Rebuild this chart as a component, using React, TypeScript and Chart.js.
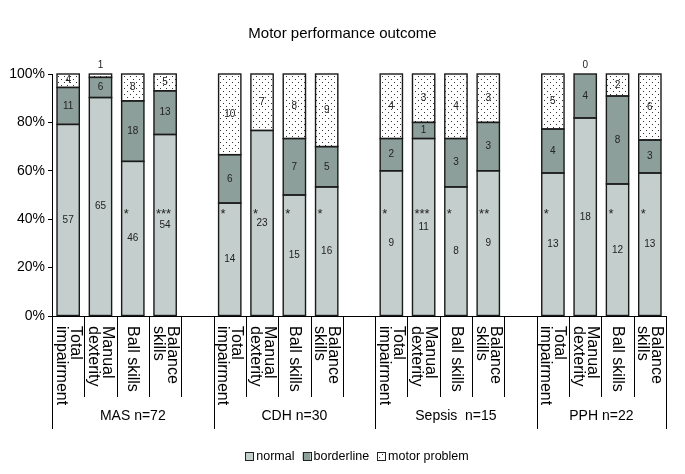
import React, { useEffect, useRef } from "react";
import { Chart, registerables } from "chart.js";
Chart.register(...registerables);

const chartTitle = "Motor performance outcome";
const groupLabels = ["MAS n=72", "CDH n=30", "Sepsis  n=15", "PPH n=22"];
const measureLabels = [["Total", "impairment"], ["Manual", "dexterity"], ["Ball skills"], ["Balance", "skills"]];
const seriesNames = ["normal", "borderline", "motor problem"];
const normalCounts = [57, 65, 46, 54, 14, 23, 15, 16, 9, 11, 8, 9, 13, 18, 12, 13];
const borderlineCounts = [11, 6, 18, 13, 6, 0, 7, 5, 2, 1, 3, 3, 4, 4, 8, 3];
const motorCounts = [4, 1, 8, 5, 10, 7, 8, 9, 4, 3, 4, 3, 5, 0, 2, 6];
const significance = ["", "", "*", "***", "*", "*", "*", "*", "*", "***", "*", "**", "*", "", "*", "*"];
const yTicks = [0, 20, 40, 60, 80, 100];

const FONT = "'Liberation Sans', Arial, Helvetica, sans-serif";
const NORMAL_COLOR = "#c4cecc";
const BORDER_COLOR = "#8d9f9a";

export default function App() {
  const ref = useRef<HTMLCanvasElement>(null);
  useEffect(() => {
    document.body.style.margin = "0";
    const canvas = ref.current!;
    const labels: any[] = [];
    const dataIdx: (number | null)[] = [];
    const groupOf: (number | null)[] = [];
    groupLabels.forEach((g, gi) => {
      measureLabels.forEach((m, mi) => {
        labels.push(m);
        dataIdx.push(gi * measureLabels.length + mi);
        groupOf.push(gi);
      });
      if (gi < groupLabels.length - 1) {
        labels.push("");
        dataIdx.push(null);
        groupOf.push(null);
      }
    });
    const totals = normalCounts.map((n, i) => n + borderlineCounts[i] + motorCounts[i]);
    const pct = (arr: number[]) => dataIdx.map((d) => (d === null ? null : (arr[d] / totals[d]) * 100));
    const countsBySeries = [normalCounts, borderlineCounts, motorCounts];

    const pc = document.createElement("canvas");
    pc.width = 6;
    pc.height = 6;
    const pctx = pc.getContext("2d")!;
    pctx.fillStyle = "#ffffff";
    pctx.fillRect(0, 0, 6, 6);
    pctx.fillStyle = "#333333";
    pctx.fillRect(1, 1, 1, 1);
    pctx.fillRect(4, 4, 1, 1);
    const pattern = canvas.getContext("2d")!.createPattern(pc, "repeat")!;
    const fills = [NORMAL_COLOR, BORDER_COLOR, pattern];

    const isGroupBoundary = (b: number, n: number) => {
      const prevGroup = b > 0 ? groupOf[b - 1] : undefined;
      const nextGroup = b < n ? groupOf[b] : undefined;
      return b === 0 || b === n || (prevGroup === null && nextGroup !== null);
    };

    const decor = {
      id: "decor",
      afterDatasetsDraw(chart: any) {
        const ctx = chart.ctx;
        const ys = chart.scales.y;
        const area = chart.chartArea;
        ctx.save();
        // segment outlines (shared edges drawn once)
        ctx.strokeStyle = "#1a1a1a";
        ctx.lineWidth = 1.4;
        countsBySeries.forEach((arr, si) => {
          const meta = chart.getDatasetMeta(si);
          meta.data.forEach((el: any, ci: number) => {
            const d = dataIdx[ci];
            if (d === null || arr[d] === 0) return;
            const left = el.x - el.width / 2;
            const top = Math.min(el.y, el.base);
            const h = Math.abs(el.base - el.y);
            ctx.strokeRect(left, top, el.width, h);
          });
        });
        ctx.fillStyle = "#222";
        ctx.font = `10px ${FONT}`;
        ctx.textAlign = "center";
        ctx.textBaseline = "middle";
        countsBySeries.forEach((arr, si) => {
          const meta = chart.getDatasetMeta(si);
          meta.data.forEach((el: any, ci: number) => {
            const d = dataIdx[ci];
            if (d === null) return;
            const v = arr[d];
            const h = Math.abs(el.base - el.y);
            if (si === 2 && h < 6) {
              ctx.fillText(String(v), el.x, area.top - 9);
              return;
            }
            if (v === 0) return;
            ctx.fillText(String(v), el.x, (el.y + el.base) / 2);
          });
        });
        ctx.font = `13px ${FONT}`;
        ctx.textAlign = "left";
        const meta0 = chart.getDatasetMeta(0);
        meta0.data.forEach((el: any, ci: number) => {
          const d = dataIdx[ci];
          if (d === null || !significance[d]) return;
          ctx.fillText(significance[d], el.x - el.width / 2 + 2, ys.getPixelForValue(43) + 2);
        });
        ctx.restore();
      },
      afterDraw(chart: any) {
        const ctx = chart.ctx;
        const xs = chart.scales.x;
        const area = chart.chartArea;
        const n = labels.length;
        const w = (area.right - area.left) / n;
        ctx.save();
        ctx.fillStyle = "#000";
        ctx.font = `15px ${FONT}`;
        ctx.textAlign = "center";
        ctx.textBaseline = "middle";
        ctx.fillText(chartTitle, 342.5, 34);
        ctx.strokeStyle = "#000";
        ctx.lineWidth = 1;
        ctx.beginPath();
        ctx.moveTo(area.left, Math.round(area.bottom) + 0.5);
        ctx.lineTo(area.right, Math.round(area.bottom) + 0.5);
        ctx.stroke();
        const shortEnd = 397;
        const longEnd = 429;
        for (let b = 0; b <= n; b++) {
          const x = Math.round(area.left + b * w) + 0.5;
          ctx.beginPath();
          ctx.moveTo(x, area.bottom);
          ctx.lineTo(x, isGroupBoundary(b, n) ? longEnd : shortEnd);
          ctx.stroke();
        }
        ctx.font = `16px ${FONT}`;
        ctx.textAlign = "left";
        ctx.textBaseline = "middle";
        labels.forEach((lab: any, ci: number) => {
          if (!lab) return;
          const lines = Array.isArray(lab) ? lab : [lab];
          const cx = xs.getPixelForValue(ci);
          ctx.save();
          ctx.translate(cx, area.bottom + 10);
          ctx.rotate(Math.PI / 2);
          const lh = 14;
          lines.forEach((t: string, i: number) => {
            ctx.fillText(t, 0, (i - (lines.length - 1) / 2) * lh);
          });
          ctx.restore();
        });
        ctx.font = `14px ${FONT}`;
        ctx.textAlign = "center";
        const starts: number[] = [];
        for (let b = 0; b <= n; b++) {
          if (isGroupBoundary(b, n)) starts.push(area.left + b * w);
        }
        groupLabels.forEach((g, gi) => {
          const x = (starts[gi] + starts[gi + 1]) / 2;
          ctx.fillText(g, x, 416);
        });
        ctx.font = `12.5px ${FONT}`;
        ctx.textAlign = "left";
        const box = 8;
        const widths = seriesNames.map((s) => box + 3 + ctx.measureText(s).width);
        const gap = 8;
        const total = widths.reduce((a, b) => a + b, 0) + gap * (seriesNames.length - 1);
        let x = 357 - total / 2;
        const ly = 456;
        seriesNames.forEach((s, i) => {
          ctx.fillStyle = fills[i] as any;
          ctx.fillRect(x, ly - box / 2, box, box);
          ctx.strokeStyle = "#222";
          ctx.strokeRect(Math.round(x) + 0.5, Math.round(ly - box / 2) + 0.5, box, box);
          ctx.fillStyle = "#000";
          ctx.fillText(s, x + box + 3, ly + 0.5);
          x += widths[i] + gap;
        });
        ctx.restore();
      },
    };

    const chart = new Chart(canvas, {
      type: "bar",
      data: {
        labels,
        datasets: [
          { label: seriesNames[0], data: pct(normalCounts), backgroundColor: NORMAL_COLOR },
          { label: seriesNames[1], data: pct(borderlineCounts), backgroundColor: BORDER_COLOR },
          { label: seriesNames[2], data: pct(motorCounts), backgroundColor: pattern },
        ].map((d) => ({
          ...d,
          borderWidth: 0,
          inflateAmount: 0,
          barPercentage: 0.69,
          categoryPercentage: 1,
        })) as any,
      },
      options: {
        responsive: false,
        animation: false,
        layout: { padding: { top: 74, right: 19, bottom: 158, left: 0 } },
        plugins: { legend: { display: false }, title: { display: false }, tooltip: { enabled: false } },
        scales: {
          x: { type: "category", stacked: true, display: false, offset: true },
          y: {
            stacked: true,
            min: 0,
            max: 100,
            afterFit: (s: any) => {
              s.width = 52;
            },
            afterBuildTicks: (s: any) => {
              s.ticks = yTicks.map((v) => ({ value: v }));
            },
            ticks: {
              callback: (v: any) => v + "%",
              font: { family: FONT, size: 14 },
              color: "#000",
              padding: 3,
            },
            grid: { drawOnChartArea: false, tickLength: 4, color: "#000" },
            border: { color: "#000", width: 1 },
          },
        },
      },
      plugins: [decor],
    });
    return () => chart.destroy();
  }, []);
  return (
    <div style={{ width: 685, height: 474 }}>
      <canvas ref={ref} width={685} height={474} style={{ display: "block" }} />
    </div>
  );
}
